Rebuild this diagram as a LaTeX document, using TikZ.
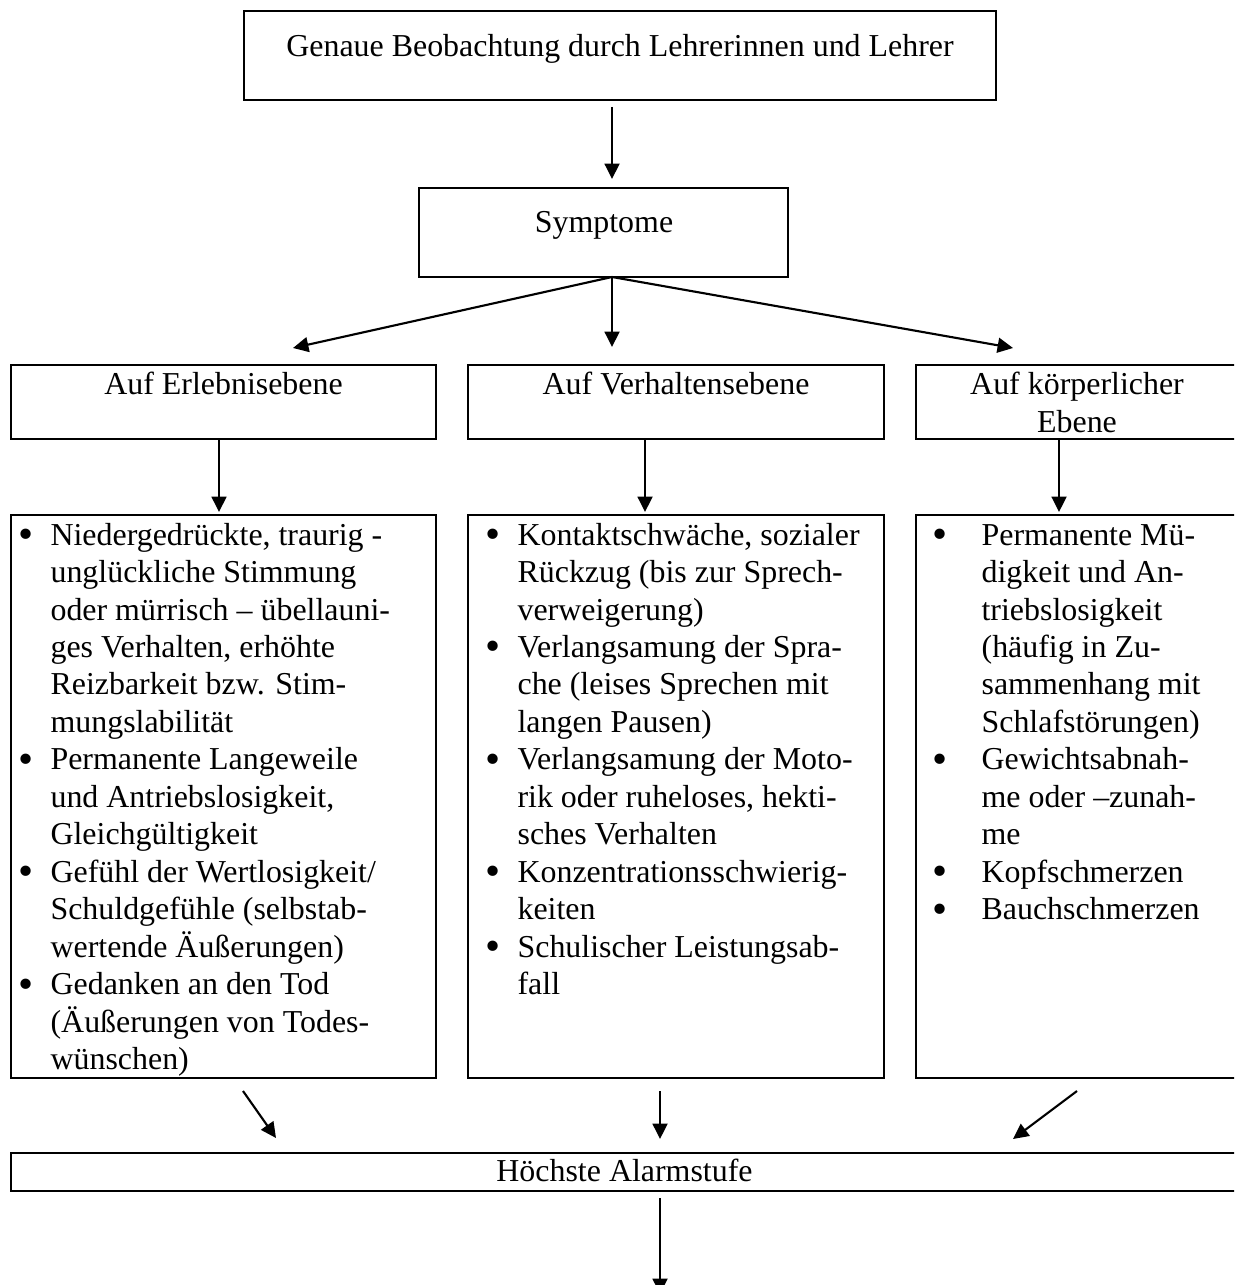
\documentclass[tikz,border=0pt]{standalone}
\usepackage{fontspec}
\setmainfont{Liberation Serif}
\usetikzlibrary{arrows.meta}

\newcommand{\punkt}{\raisebox{-1.2pt}{\scalebox{1.35}{\textbullet}}}

\tikzset{
  kasten/.style={draw, line width=0.9pt},
  pfeil/.style={line width=0.8pt, -{Triangle[length=5.8pt,width=5.6pt]}},
  schrift/.style={font=\fontsize{12}{14.1}\selectfont, inner sep=0pt}
}

\begin{document}
\begin{tikzpicture}[x=0.376pt, y=-0.376pt]
\useasboundingbox (0,0) rectangle (1234,1285);
\clip (0,0) rectangle (1234,1285);
   % Arrow ends
\coordinate (A) at (612,107);
\coordinate (B) at (612,179);
\coordinate (S) at (612,277);
\coordinate (L) at (293,348);
\coordinate (M) at (612,347);
\coordinate (R) at (1013,348);
\coordinate (L1) at (219,439);
\coordinate (L2) at (219,512);
\coordinate (M1) at (645,439);
\coordinate (M2) at (645,512);
\coordinate (R1) at (1059,439);
\coordinate (R2) at (1059,512);
\coordinate (U1) at (243,1091);
\coordinate (U2) at (276,1138);
\coordinate (V1) at (660,1091);
\coordinate (V2) at (660,1139);
\coordinate (W1) at (1077,1091);
\coordinate (W2) at (1013,1139);
\coordinate (X1) at (660,1198);
\coordinate (X2) at (660,1294);

% Boxes
\draw[kasten] (244,11) rectangle (996,100);
\draw[kasten] (419,188) rectangle (788,277);
\draw[kasten] (11,365) rectangle (436,439);
\draw[kasten] (468,365) rectangle (884,439);
\draw[kasten] (916,365) rectangle (1238,439);
\draw[kasten] (11,515) rectangle (436,1078);
\draw[kasten] (468,515) rectangle (884,1078);
\draw[kasten] (916,515) rectangle (1238,1078);
\draw[kasten] (11,1153) rectangle (1238,1191);

\node[schrift, anchor=base] (beob) at (620,57) {Genaue Beobachtung durch Lehrerinnen und Lehrer};
\node[schrift, anchor=base] (sympt) at (604,233) {Symptome};
\node[schrift, anchor=base] (erleb) at (223.5,395) {Auf Erlebnisebene};
\node[schrift, anchor=base] (verh) at (676,395) {Auf Verhaltensebene};
\node[schrift, anchor=base] (koerp) at (1077,395) {Auf körperlicher};
\node[schrift, anchor=base] (koerpb) at (1077,432.5) {Ebene};
\node[schrift, anchor=base] (alarm) at (624.5,1181) {Höchste Alarmstufe};

\node[schrift, anchor=base west] (liste1) at (18.4,545) {\begin{tabular}[t]{@{}p{11.9pt}@{}l@{}}
\punkt & Niedergedrückte, traurig -\\
 & unglückliche Stimmung\\
 & oder mürrisch – übellauni-\\
 & ges Verhalten, erhöhte\\
 & Reizbarkeit bzw. Stim-\\
 & mungslabilität\\
\punkt & Permanente Langeweile\\
 & und Antriebslosigkeit,\\
 & Gleichgültigkeit\\
\punkt & Gefühl der Wertlosigkeit/\\
 & Schuldgefühle (selbstab-\\
 & wertende Äußerungen)\\
\punkt & Gedanken an den Tod\\
 & (Äußerungen von Todes-\\
 & wünschen)
\end{tabular}};

\node[schrift, anchor=base west] (liste2) at (485.4,545) {\begin{tabular}[t]{@{}p{11.9pt}@{}l@{}}
\punkt & Kontaktschwäche, sozialer\\
 & Rückzug (bis zur Sprech-\\
 & verweigerung)\\
\punkt & Verlangsamung der Spra-\\
 & che (leises Sprechen mit\\
 & langen Pausen)\\
\punkt & Verlangsamung der Moto-\\
 & rik oder ruheloses, hekti-\\
 & sches Verhalten\\
\punkt & Konzentrationsschwierig-\\
 & keiten\\
\punkt & Schulischer Leistungsab-\\
 & fall
\end{tabular}};

\node[schrift, anchor=base west] (liste3) at (932.4,545) {\begin{tabular}[t]{@{}p{18.3pt}@{}l@{}}
\punkt & Permanente Mü-\\
 & digkeit und An-\\
 & triebslosigkeit\\
 & (häufig in Zu-\\
 & sammenhang mit\\
 & Schlafstörungen)\\
\punkt & Gewichtsabnah-\\
 & me oder –zunah-\\
 & me\\
\punkt & Kopfschmerzen\\
\punkt & Bauchschmerzen
\end{tabular}};

\draw[pfeil] (A) -- (B);
\draw[pfeil] (S) -- (L);
\draw[pfeil] (S) -- (M);
\draw[pfeil] (S) -- (R);
\draw[pfeil] (L1) -- (L2);
\draw[pfeil] (M1) -- (M2);
\draw[pfeil] (R1) -- (R2);
\draw[pfeil] (U1) -- (U2);
\draw[pfeil] (V1) -- (V2);
\draw[pfeil] (W1) -- (W2);
\draw[pfeil] (X1) -- (X2);
\end{tikzpicture}
\end{document}
